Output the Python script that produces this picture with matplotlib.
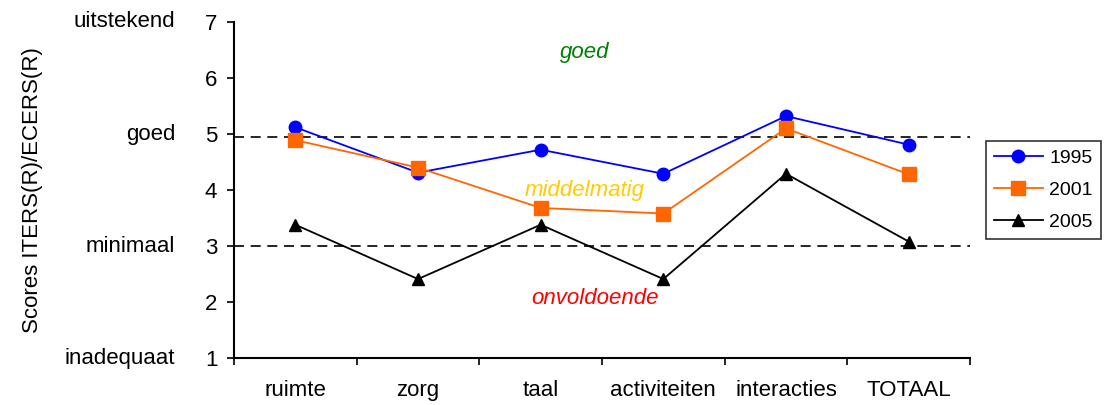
import matplotlib
matplotlib.use("Agg")
import matplotlib.pyplot as plt

plt.rcParams['font.family'] = ['Liberation Sans', 'DejaVu Sans']

categories = ['ruimte', 'zorg', 'taal', 'activiteiten', 'interacties', 'TOTAAL']
s1995 = [5.12, 4.31, 4.72, 4.29, 5.32, 4.81]
s2001 = [4.89, 4.40, 3.68, 3.58, 5.10, 4.28]
s2005 = [3.38, 2.41, 3.38, 2.41, 4.29, 3.08]
level_labels = ['uitstekend', 'goed', 'minimaal', 'inadequaat']
level_values = [7, 5, 3, 1]
thresholds = [4.95, 3.0]

fig = plt.figure(figsize=(11.05, 4.05), dpi=100)
ax = fig.add_axes([0.2118, 0.116, 0.666, 0.8297])

x = list(range(len(categories)))
ax.plot(x, s1995, color='#0000FF', marker='o', markersize=9, lw=1.3, label='1995')
ax.plot(x, s2001, color='#FF6600', marker='s', markersize=10, lw=1.3, label='2001')
ax.plot(x, s2005, color='black', marker='^', markersize=9, lw=1.3, label='2005')

for t in thresholds:
    ax.axhline(t, color='black', lw=1.2, dashes=(6, 4), zorder=0)

ax.set_xlim(-0.5, len(categories) - 0.5)
ax.set_ylim(1, 7)
ax.set_yticks(range(1, 8))
ax.set_xticks([i - 0.5 for i in range(len(categories) + 1)])
ax.set_xticklabels([])
ax.set_xticks(x, minor=True)
ax.set_xticklabels(categories, minor=True)
ax.tick_params(axis='x', which='minor', length=0, pad=16, labelsize=16)
ax.tick_params(axis='x', which='major', length=5, width=1.2, direction='out')
ax.tick_params(axis='y', length=5, width=1.2, direction='out', pad=7, labelsize=16)

for s in ['top', 'right']:
    ax.spines[s].set_visible(False)
for s in ['left', 'bottom']:
    ax.spines[s].set_linewidth(1.5)

trans = ax.get_yaxis_transform()
for lab, v in zip(level_labels, level_values):
    ax.text(-0.08, v, lab, transform=trans, ha='right', va='center', fontsize=16)

ax.text(2.36, 6.45, 'goed', color='#008000', style='italic', fontsize=16, ha='center', va='center')
ax.text(2.36, 4.0, 'middelmatig', color='#FFCC00', style='italic', fontsize=16, ha='center', va='center')
ax.text(2.44, 2.07, 'onvoldoende', color='#FF0000', style='italic', fontsize=16, ha='center', va='center')

ax.set_ylabel('Scores ITERS(R)/ECERS(R)', fontsize=16)
ax.yaxis.set_label_coords(-0.26, 0.5)

leg = ax.legend(loc='center left', bbox_to_anchor=(1.022, 0.5), fontsize=14, frameon=True,
                fancybox=False, edgecolor='black', borderpad=0.4, labelspacing=0.75,
                handlelength=2.5, handletextpad=0.35, borderaxespad=0)
leg.get_frame().set_linewidth(1.2)

fig.savefig('out.png', dpi=100)
